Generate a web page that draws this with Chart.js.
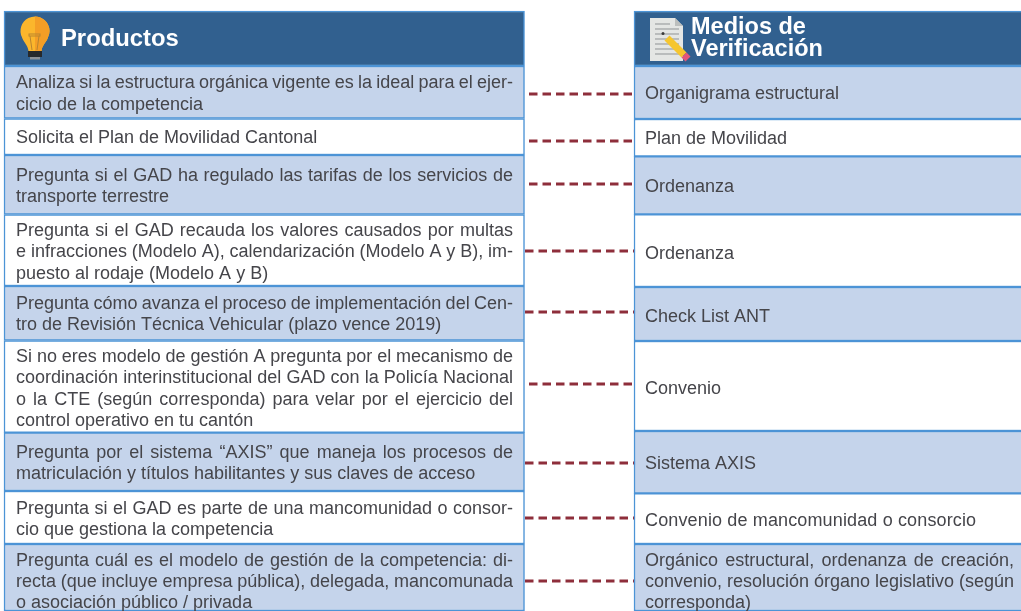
<!DOCTYPE html>
<html lang="es">
<head>
<meta charset="utf-8">
<title>Productos y medios de verificación</title>
<script src="https://cdn.jsdelivr.net/npm/chart.js@4/dist/chart.umd.min.js"></script>
<style>
  html, body { margin: 0; padding: 0; background: #fff; overflow: hidden; }
  canvas { display: block; }
</style>
</head>
<body>
<canvas id="tablaChart" width="1021" height="611"></canvas>
<script>
// Data
const categories = ['Productos', 'Medios de Verificación'];
const productHeights = [55, 52.5, 36.5, 59.5, 71.5, 54.5, 92.2, 58.3, 53, 67];
const mediaHeights = [55, 53, 37.3, 58, 72.7, 54, 90, 62.3, 50.7, 67];
const connectorLevels = [94, 141, 184, 251, 312, 384, 463, 518, 581];

const productLines = [
    ['Analiza si la estructura orgánica vigente es la ideal para el ejer-', 'cicio de la competencia'],
    ['Solicita el Plan de Movilidad Cantonal'],
    ['Pregunta si el GAD ha regulado las tarifas de los servicios de', 'transporte terrestre'],
    ['Pregunta si el GAD recauda los valores causados por multas', 'e infracciones (Modelo A), calendarización (Modelo A y B), im-', 'puesto al rodaje (Modelo A y B)'],
    ['Pregunta cómo avanza el proceso de implementación del Cen-', 'tro de Revisión Técnica Vehicular (plazo vence 2019)'],
    ['Si no eres modelo de gestión A pregunta por el mecanismo de', 'coordinación interinstitucional del GAD con la Policía Nacional', 'o la CTE (según corresponda) para velar por el ejercicio del', 'control operativo en tu cantón'],
    ['Pregunta por el sistema “AXIS” que maneja los procesos de', 'matriculación y títulos habilitantes y sus claves de acceso'],
    ['Pregunta si el GAD es parte de una mancomunidad o consor-', 'cio que gestiona la competencia'],
    ['Pregunta cuál es el modelo de gestión de la competencia: di-', 'recta (que incluye empresa pública), delegada, mancomunada', 'o asociación público / privada']
];
const mediaLines = [
    ['Organigrama estructural'],
    ['Plan de Movilidad'],
    ['Ordenanza'],
    ['Ordenanza'],
    ['Check List ANT'],
    ['Convenio'],
    ['Sistema AXIS'],
    ['Convenio de mancomunidad o consorcio'],
    ['Orgánico estructural, ordenanza de creación,', 'convenio, resolución órgano legislativo (según', 'corresponda)']
];

// Styles
const headerBlue = '#31608f';
const rowBlue = '#c5d4eb';
const borderBlue = '#4c94d6';
const dashRed = '#8e2e3b';
const textGrey = '#45454a';
const bodyFont = '18px "Liberation Sans"';
// dash phase per connector, some of them start closer to the left table
const dashOffsets = [5.25, 5.25, 5.25, 9.25, 9.25, 5.25, 9.25, 9.25, 9.25];

function rowFill(i) {
    if (i === 0) return headerBlue;
    return i % 2 === 1 ? rowBlue : '#ffffff';
}

const datasets = [];
productHeights.forEach(function (h, i) {
    datasets.push({
        data: [h, null], barThickness: 520.5, backgroundColor: rowFill(i),
        borderColor: borderBlue, borderWidth: 1.5, borderSkipped: false, clip: false
    });
});
mediaHeights.forEach(function (h, i) {
    datasets.push({
        data: [null, h], barThickness: 391, backgroundColor: rowFill(i),
        borderColor: borderBlue, borderWidth: 1.5, borderSkipped: false, clip: false
    });
});
connectorLevels.forEach(function (level, i) {
    datasets.push({
        type: 'line', data: [level, level], yAxisID: 'yLine', order: 1,
        borderColor: dashRed, borderWidth: 3, borderDash: [8.5, 5], borderDashOffset: dashOffsets[i],
        pointRadius: 0, tension: 0
    });
});

// Draws one block of lines, justified except for the last one
function drawRow(ctx, lines, x, right, midY, lineHeight) {
    const top = midY - (lines.length - 1) * lineHeight / 2;
    lines.forEach(function (line, n) {
        ctx.wordSpacing = '0px';
        if (right && n < lines.length - 1) {
            const gaps = line.split(' ').length - 1;
            ctx.wordSpacing = ((right - x - ctx.measureText(line).width) / gaps) + 'px';
        }
        ctx.fillText(line, x, top + n * lineHeight);
    });
    ctx.wordSpacing = '0px';
}

function drawBulb(ctx) {
    ctx.fillStyle = '#fbb62c';
    ctx.beginPath();
    ctx.arc(35, 31, 14.5, Math.PI * 0.85, Math.PI * 0.15);
    ctx.bezierCurveTo(47, 42, 42, 45, 41.5, 51);
    ctx.lineTo(28.5, 51);
    ctx.bezierCurveTo(28, 45, 23, 42, 21.5, 36);
    ctx.closePath();
    ctx.fill();
    ctx.fillStyle = '#f49e26';
    ctx.beginPath();
    ctx.moveTo(35, 16.5);
    ctx.arc(35, 31, 14.5, -Math.PI / 2, Math.PI * 0.15);
    ctx.bezierCurveTo(47, 42, 42, 45, 41.5, 51);
    ctx.lineTo(35, 51);
    ctx.closePath();
    ctx.fill();
    ctx.strokeStyle = '#b9852f';
    ctx.lineWidth = 1;
    ctx.strokeRect(29, 34, 11, 2);
    ctx.beginPath();
    ctx.moveTo(30, 36); ctx.lineTo(32, 50);
    ctx.moveTo(39, 36); ctx.lineTo(37, 50);
    ctx.stroke();
    ctx.fillStyle = '#26292c';
    ctx.fillRect(28, 51, 14, 6);
    ctx.fillStyle = '#8c9196';
    ctx.fillRect(30, 57, 10, 2.5);
}

function drawNotepad(ctx) {
    ctx.fillStyle = '#e4e6e4';
    ctx.beginPath();
    ctx.moveTo(650, 18); ctx.lineTo(675, 18); ctx.lineTo(683, 26);
    ctx.lineTo(683, 61); ctx.lineTo(650, 61);
    ctx.closePath();
    ctx.fill();
    ctx.fillStyle = '#bcbfbe';
    ctx.beginPath();
    ctx.moveTo(675, 18); ctx.lineTo(683, 26); ctx.lineTo(675, 26);
    ctx.closePath();
    ctx.fill();
    ctx.strokeStyle = '#8f9395';
    ctx.lineWidth = 1;
    [24, 29, 34, 39, 44, 49, 54].forEach(function (y) {
        ctx.beginPath();
        ctx.moveTo(655, y); ctx.lineTo(y < 27 ? 670 : 679, y);
        ctx.stroke();
    });
    ctx.strokeStyle = '#f6c62e';
    ctx.lineWidth = 7;
    ctx.beginPath();
    ctx.moveTo(667, 38); ctx.lineTo(684, 55);
    ctx.stroke();
    ctx.strokeStyle = '#e2577a';
    ctx.beginPath();
    ctx.moveTo(684, 55); ctx.lineTo(688, 59);
    ctx.stroke();
    ctx.fillStyle = '#3a3a3a';
    ctx.beginPath();
    ctx.arc(663, 33.5, 1.5, 0, Math.PI * 2);
    ctx.fill();
}

const tableText = {
    id: 'tableText',
    afterDatasetsDraw: function (chart) {
        const ctx = chart.ctx;
        const y = chart.scales.y;
        ctx.save();
        ctx.textBaseline = 'middle';
        ctx.textAlign = 'left';

        drawBulb(ctx);
        drawNotepad(ctx);

        ctx.fillStyle = '#ffffff';
        ctx.font = 'bold 23.8px "Liberation Sans"';
        ctx.fillText('Productos', 61, 39);
        ctx.font = 'bold 23.5px "Liberation Sans"';
        ctx.fillText('Medios de', 691, 28);
        ctx.fillText('Verificación', 691, 50);

        ctx.fillStyle = textGrey;
        ctx.font = bodyFont;
        const productShift = [2, 1.5, 2, 2, 1.5, 2.5, 1.5, 2, 5];
        const mediaShift = [2, 1, 2, 3, 3, 3, 2, 2, 4.5];
        let sum = productHeights[0];
        productLines.forEach(function (lines, i) {
            const h = productHeights[i + 1];
            drawRow(ctx, lines, 16, 513, y.getPixelForValue(sum + h / 2) + productShift[i], i === 8 ? 21 : 21.5);
            sum += h;
        });
        sum = mediaHeights[0];
        mediaLines.forEach(function (lines, i) {
            const h = mediaHeights[i + 1];
            ctx.letterSpacing = i === 7 ? '0.14px' : '0px';
            drawRow(ctx, lines, 645, 1014, y.getPixelForValue(sum + h / 2) + mediaShift[i], 21);
            sum += h;
        });
        ctx.restore();
    }
};

new Chart(document.getElementById('tablaChart').getContext('2d'), {
    type: 'bar',
    data: { labels: categories, datasets: datasets },
    plugins: [tableText],
    options: {
        responsive: false,
        animation: false,
        layout: { padding: { left: 264.25, right: 191.5, top: 0, bottom: 0 } },
        plugins: { legend: { display: false }, tooltip: { enabled: false } },
        scales: {
            x: { display: false, offset: false, stacked: true },
            y: { display: false, stacked: true, reverse: true, min: -11, max: 600 },
            yLine: { display: false, reverse: true, min: 0, max: 611 }
        }
    }
});
</script>
</body>
</html>
